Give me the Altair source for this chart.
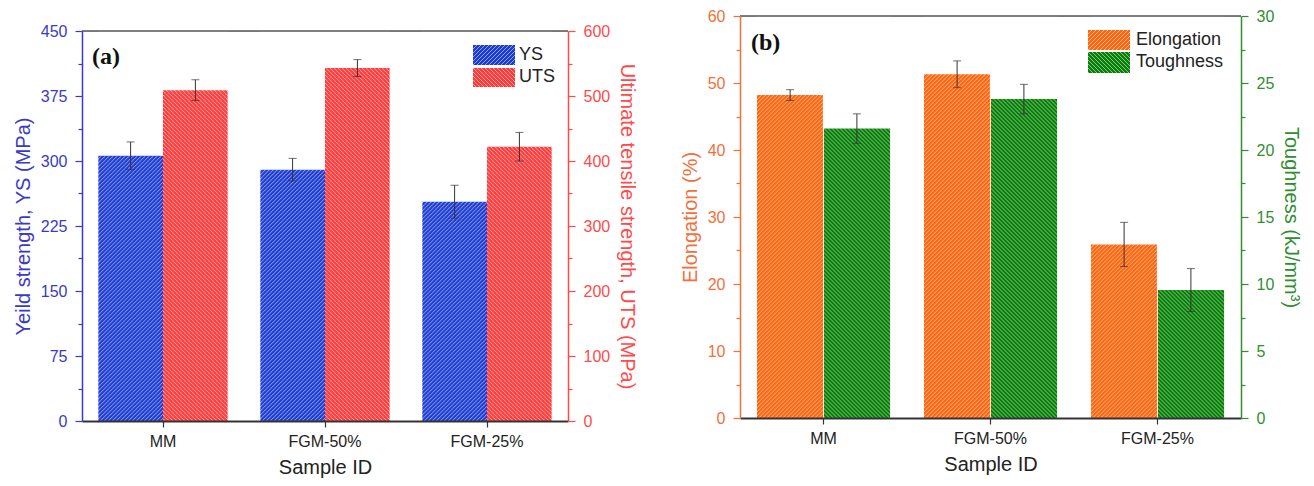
import urllib.parse
import altair as alt
import pandas as pd

# ---------------- data ----------------
categories = ["MM", "FGM-50%", "FGM-25%"]

series_a = ["YS", "UTS"]
ys_values = [306, 290, 253]
ys_errors = [16, 13, 19]
uts_values = [509, 543, 422]
uts_errors = [16, 13, 22]

series_b = ["Elongation", "Toughness"]
elong_values = [48.2, 51.3, 25.9]
elong_errors = [0.8, 2.0, 3.3]
tough_values = [21.6, 23.8, 9.55]
tough_errors = [1.1, 1.1, 1.6]

FONT = "Liberation Sans"


def make_df(series, values_list, errors_list):
    rows = []
    for s, vals, errs in zip(series, values_list, errors_list):
        for c, v, e in zip(categories, vals, errs):
            rows.append({"category": c, "series": s, "value": v, "lo": v - e, "hi": v + e})
    return pd.DataFrame(rows)


df_a = make_df(series_a, [ys_values, uts_values], [ys_errors, uts_errors])
df_b = make_df(series_b, [elong_values, tough_values], [elong_errors, tough_errors])


def hatch(color, w, h, direction, line="#ffffff", lw=0.6):
    """SVG data URI of a w x h rectangle filled with a 45-degree hatch."""
    if direction == "/":
        d = "M-1,1 l2,-2 M0,4 l4,-4 M3,5 l2,-2"
    else:
        d = "M-1,3 l2,2 M0,0 l4,4 M3,-1 l2,2"
    svg = (
        f"<svg xmlns='http://www.w3.org/2000/svg' width='{w:.2f}' height='{h:.2f}' "
        f"viewBox='0 0 {w:.2f} {h:.2f}' preserveAspectRatio='none'>"
        f"<defs><pattern id='p' width='4' height='4' patternUnits='userSpaceOnUse'>"
        f"<rect width='4' height='4' fill='{color}'/>"
        f"<path d='{d}' stroke='{line}' stroke-opacity='0.9' stroke-width='{lw}'/></pattern></defs>"
        f"<rect width='100%' height='100%' fill='url(#p)'/></svg>"
    )
    return "data:image/svg+xml;charset=utf-8," + urllib.parse.quote(svg)


def y_axis(orient, step, major, top, color, title):
    n = int(round(top / step))
    vals = [round(i * step, 4) for i in range(n + 1)]
    return alt.Axis(
        orient=orient,
        values=vals,
        labelExpr=f"datum.value % {major} === 0 ? datum.label : ''",
        tickSize={"condition": {"test": f"datum.value % {major} === 0", "value": 7}, "value": 4},
        labelOverlap=False,
        grid=False,
        domainColor=color,
        domainWidth=1.5,
        tickColor=color,
        tickWidth=1.2,
        labelColor=color,
        labelFont=FONT,
        labelFontSize=16,
        labelPadding=8,
        title=title,
        titleColor=color,
        titleFont=FONT,
        titleFontSize=20,
        titleFontWeight="normal",
        titlePadding=7,
        zindex=1,
    )


def panel(df, series, doms, fills, dirs, axis_colors, titles, steps, majors,
          W, H, label, label_pos, legend_x, legend_ys, legend_text_x, legend_text_ys):
    bw = W / 3 * 0.4
    x = alt.X(
        "category:N",
        sort=categories,
        scale=alt.Scale(domain=categories, paddingInner=0.2, paddingOuter=0.1),
        axis=alt.Axis(
            labelAngle=0, labelFont=FONT, labelFontSize=16, labelColor="#222",
            labelPadding=6, tickSize=6, tickColor="#333", tickWidth=1.2,
            domainColor="#333", domainWidth=1.8, titleFont=FONT, titleFontSize=20,
            titleFontWeight="normal", titleColor="#222", titlePadding=8, zindex=1,
        ),
        title="Sample ID",
    )
    xo = alt.XOffset("series:N", scale=alt.Scale(domain=series))
    layers = []
    for i, s in enumerate(series):
        dom = doms[i]
        ysc = alt.Scale(domain=dom, nice=False, zero=True)
        base = alt.Chart(df).transform_filter(alt.datum.series == s)
        orient = "left" if i == 0 else "right"
        # invisible carrier of the axis
        axis_layer = base.mark_bar(opacity=0).encode(
            x=x, xOffset=xo,
            y=alt.Y(datum=dom[1], scale=ysc,
                    axis=y_axis(orient, steps[i], majors[i], dom[1], axis_colors[i], titles[i])),
            y2=alt.Y2(datum=dom[0]),
        )
        stripe = base.mark_image(url=hatch(fills[i], bw, H, dirs[i]), aspect=False).encode(
            x=x, xOffset=xo,
            y=alt.Y(datum=dom[1], scale=ysc, axis=None),
            y2=alt.Y2(datum=dom[0]),
        )
        mask = base.mark_bar(color="white", width=bw + 1.2).encode(
            x=x, xOffset=xo,
            y=alt.Y("value:Q", scale=ysc, axis=None),
            y2=alt.Y2(datum=dom[1]),
        )
        layers += [axis_layer, stripe, mask]
    for i, s in enumerate(series):
        dom = doms[i]
        ysc = alt.Scale(domain=dom, nice=False, zero=True)
        base = alt.Chart(df).transform_filter(alt.datum.series == s)
        rule = base.mark_rule(color="#333", strokeWidth=1).encode(
            x=x, xOffset=xo,
            y=alt.Y("lo:Q", scale=ysc, axis=None), y2="hi:Q",
        )
        cap_lo = base.mark_tick(color="#333", size=8, thickness=1).encode(
            x=x, xOffset=xo, y=alt.Y("lo:Q", scale=ysc, axis=None))
        cap_hi = base.mark_tick(color="#333", size=8, thickness=1).encode(
            x=x, xOffset=xo, y=alt.Y("hi:Q", scale=ysc, axis=None))
        layers += [rule, cap_lo, cap_hi]
    # frame top line
    one = pd.DataFrame({"k": [0]})
    layers.append(alt.Chart(one).mark_rule(color="#555", strokeWidth=1.5).encode(
        x=alt.value(0), x2=alt.value(W), y=alt.value(0)))
    # legend
    lw = legend_x[1] - legend_x[0]
    for i, s in enumerate(series):
        lh = legend_ys[i][1] - legend_ys[i][0]
        ldf = pd.DataFrame({"label": [s]})
        layers.append(alt.Chart(ldf).mark_image(url=hatch(fills[i], lw, lh, dirs[i]), aspect=False).encode(
            x=alt.value(legend_x[0]), x2=alt.value(legend_x[1]),
            y=alt.value(legend_ys[i][0]), y2=alt.value(legend_ys[i][1])))
        layers.append(alt.Chart(ldf).mark_text(
            align="left", baseline="middle", font=FONT, fontSize=18, color="#222").encode(
            x=alt.value(legend_text_x), y=alt.value(legend_text_ys[i]), text="label:N"))
    ldf = pd.DataFrame({"label": [label]})
    layers.append(alt.Chart(ldf).mark_text(
        align="left", baseline="middle", font="Liberation Serif", fontWeight="bold",
        fontSize=24, color="#111").encode(
        x=alt.value(label_pos[0]), y=alt.value(label_pos[1]), text="label:N"))
    return alt.layer(*layers).resolve_scale(y="independent").properties(width=W, height=H)


pa = panel(
    df_a, series_a, [(0, 450), (0, 600)], ["#1c3bd4", "#ff3a3a"], ["/", "\\"],
    ["#3a3ac8", "#ff4a4a"], ["Yeild strength, YS (MPa)", "Ultimate tensile strength, UTS (MPa)"],
    [37.5, 50], [75, 100], 486, 390, "(a)", (10, 26),
    (391, 433), [(14, 34), (37, 56)], 437, [24, 46],
)

# empty spacer so that panel (a) sits lower than panel (b), as in the original
spacer = alt.Chart(pd.DataFrame({"k": [0]})).mark_text(text="").properties(
    width=486, height=1, view=alt.ViewBackground(stroke="transparent", fill="transparent")
)
pa_wrapped = alt.vconcat(spacer, pa, spacing=0)

pb = panel(
    df_b, series_b, [(0, 60), (0, 30)], ["#ff6610", "#078007"], ["/", "\\"],
    ["#f2703a", "#2f8f2f"], ["Elongation (%)", "Toughness (kJ/mm³)"],
    [5, 2.5], [10, 5], 501, 402, "(b)", (11, 27),
    (348, 390), [(14, 34), (36, 57)], 396, [24, 46],
)

chart = (
    alt.hconcat(pa_wrapped, pb, spacing=41)
    .resolve_scale(xOffset="independent", x="independent")
    .configure_view(stroke="transparent", strokeWidth=0)
    .configure(padding={"left": 4, "top": -1, "right": 0, "bottom": 0})
)

chart.save("out.html", embed_options={"renderer": "svg", "actions": False})
